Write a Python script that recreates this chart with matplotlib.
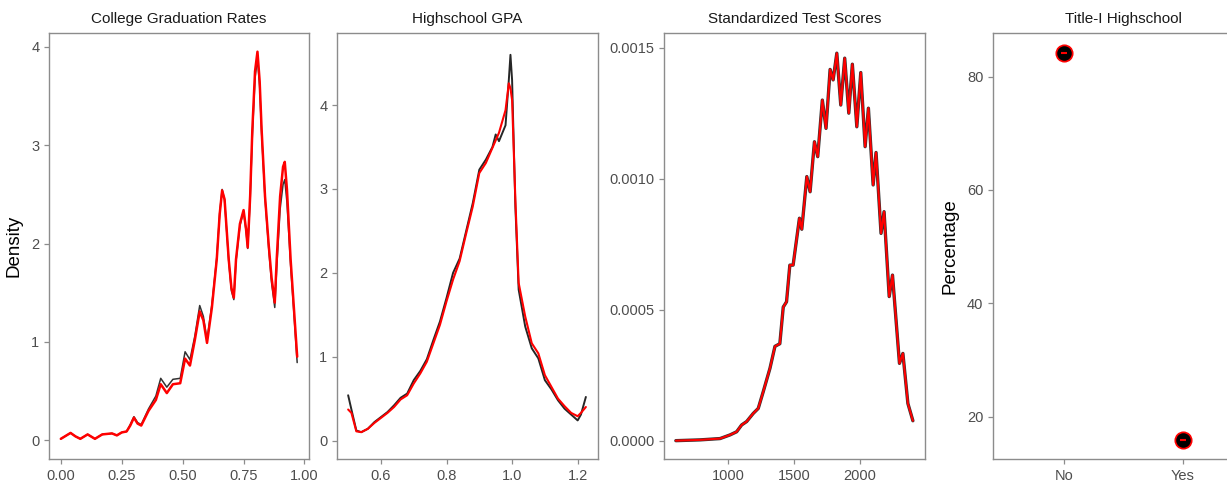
import matplotlib
matplotlib.use("Agg")
import matplotlib.pyplot as plt

plt.rcParams['font.family'] = ['Liberation Sans', 'DejaVu Sans']

# ---------------- Data ----------------
# Panel 1: College Graduation Rates
grad_x = [0.00, 0.02, 0.04, 0.06, 0.08, 0.11, 0.14, 0.17, 0.21, 0.23, 0.25, 0.27, 0.285,
          0.30, 0.315, 0.33, 0.36, 0.39, 0.41, 0.435, 0.46, 0.49, 0.51, 0.53, 0.55, 0.57,
          0.585, 0.60, 0.62, 0.64, 0.652, 0.662, 0.672, 0.689, 0.70, 0.71, 0.719, 0.735,
          0.750, 0.760, 0.767, 0.777, 0.786, 0.797, 0.807, 0.816, 0.824, 0.838, 0.854,
          0.865, 0.878, 0.886, 0.900, 0.912, 0.919, 0.928, 0.943, 0.955, 0.97]
grad_obs = [0.015, 0.045, 0.075, 0.04, 0.015, 0.06, 0.015, 0.06, 0.07, 0.05, 0.08, 0.09, 0.15,
            0.23, 0.17, 0.15, 0.30, 0.41, 0.57, 0.48, 0.57, 0.58, 0.83, 0.76, 1.02, 1.31,
            1.22, 0.99, 1.35, 1.84, 2.30, 2.54, 2.45, 1.84, 1.55, 1.45, 1.84, 2.20,
            2.34, 2.15, 1.96, 2.48, 3.16, 3.75, 3.95, 3.65, 3.16, 2.48, 1.96,
            1.65, 1.40, 1.84, 2.48, 2.78, 2.83, 2.55, 1.84, 1.40, 0.85]
grad_rep = [0.015, 0.045, 0.075, 0.04, 0.015, 0.06, 0.015, 0.06, 0.07, 0.05, 0.08, 0.09, 0.16,
            0.24, 0.18, 0.16, 0.32, 0.45, 0.63, 0.54, 0.62, 0.63, 0.90, 0.82, 1.06, 1.37,
            1.26, 1.02, 1.38, 1.86, 2.31, 2.55, 2.44, 1.82, 1.52, 1.43, 1.82, 2.18,
            2.33, 2.13, 1.95, 2.45, 3.10, 3.68, 3.88, 3.60, 3.12, 2.46, 1.92,
            1.60, 1.35, 1.75, 2.35, 2.60, 2.65, 2.42, 1.78, 1.35, 0.79]

# Panel 2: Highschool GPA
gpa_x = [0.50, 0.51, 0.525, 0.54, 0.56, 0.58, 0.60, 0.62, 0.64, 0.66, 0.68, 0.70, 0.72,
         0.74, 0.76, 0.78, 0.80, 0.82, 0.84, 0.86, 0.88, 0.90, 0.92, 0.94, 0.95, 0.96,
         0.98, 0.99, 0.995, 1.00, 1.01, 1.02, 1.04, 1.06, 1.08, 1.10, 1.12, 1.14, 1.16,
         1.18, 1.20, 1.21, 1.225]
gpa_obs = [0.37, 0.33, 0.11, 0.10, 0.14, 0.21, 0.27, 0.33, 0.40, 0.49, 0.54, 0.68, 0.80,
           0.94, 1.16, 1.38, 1.66, 1.92, 2.14, 2.47, 2.79, 3.19, 3.31, 3.49, 3.58, 3.67,
           3.94, 4.26, 4.20, 4.06, 2.87, 1.88, 1.48, 1.16, 1.04, 0.78, 0.64, 0.50, 0.41,
           0.33, 0.29, 0.33, 0.40]
gpa_rep = [0.54, 0.37, 0.12, 0.10, 0.14, 0.22, 0.28, 0.34, 0.42, 0.51, 0.56, 0.72, 0.83,
           0.97, 1.20, 1.42, 1.70, 2.00, 2.17, 2.50, 2.83, 3.23, 3.35, 3.50, 3.65, 3.57,
           3.76, 4.30, 4.60, 4.30, 2.79, 1.80, 1.36, 1.10, 0.98, 0.72, 0.61, 0.48, 0.38,
           0.31, 0.24, 0.31, 0.52]

# Panel 3: Standardized Test Scores (density x 1e-4)
sat_x = [601, 785, 937, 1013, 1063, 1101, 1139, 1189, 1227, 1265, 1316, 1354, 1391, 1417,
         1442, 1467, 1492, 1540, 1558, 1596, 1621, 1654, 1679, 1714, 1742, 1773, 1796,
         1824, 1854, 1884, 1915, 1942, 1976, 2006, 2039, 2064, 2100, 2122, 2160, 2183,
         2222, 2247, 2300, 2326, 2364, 2402]
sat_obs = [0.0, 0.03, 0.08, 0.22, 0.34, 0.60, 0.73, 1.04, 1.23, 1.87, 2.76, 3.60, 3.70, 5.10,
           5.30, 6.70, 6.70, 8.49, 8.07, 10.08, 9.50, 11.41, 10.84, 13.00, 11.92, 14.17, 13.77,
           14.79, 12.81, 14.60, 12.50, 14.37, 11.98, 14.05, 11.22, 12.69, 9.76, 11.00, 7.91, 8.74,
           5.50, 6.32, 2.95, 3.33, 1.42, 0.76]

# Panel 4: Title-I Highschool
title_cats = ["No", "Yes"]
title_pct = [84.13, 15.87]

# ---------------- Styling ----------------
W, H = 1227, 482
fig = plt.figure(figsize=(W / 100, H / 100), dpi=100)

spine_col = "#8c8c8c"
tick_col = "#4d4d4d"


def make_ax(left, right, top=33, bottom=459):
    ax = fig.add_axes([left / W, (H - bottom) / H, (right - left) / W, (bottom - top) / H])
    for s in ax.spines.values():
        s.set_color(spine_col)
        s.set_linewidth(1.0)
    ax.tick_params(colors=spine_col, labelcolor=tick_col, labelsize=10.5, length=3.5, width=0.9)
    return ax


title_kw = dict(fontsize=11, color="#1a1a1a", pad=7)
line_kw = dict(solid_joinstyle="round", solid_capstyle="round")

# Panel 1
ax1 = make_ax(49, 309)
ax1.plot(grad_x, grad_rep, color="black", lw=1.1, alpha=0.8, **line_kw)
ax1.plot(grad_x, grad_obs, color="red", lw=1.8, **line_kw)
ax1.set_xlim(-0.0485, 1.0185)
ax1.set_ylim(-0.19, 4.14)
ax1.set_xticks([0, 0.25, 0.5, 0.75, 1.0])
ax1.set_xticklabels(["0.00", "0.25", "0.50", "0.75", "1.00"])
ax1.set_yticks([0, 1, 2, 3, 4])
ax1.set_ylabel("Density", fontsize=13.5, color="black", labelpad=6)
ax1.set_title("College Graduation Rates", **title_kw)

# Panel 2
ax2 = make_ax(337, 598)
ax2.plot(gpa_x, gpa_rep, color="black", lw=1.4, alpha=0.85, **line_kw)
ax2.plot(gpa_x, gpa_obs, color="red", lw=1.5, **line_kw)
ax2.set_xlim(0.466, 1.262)
ax2.set_ylim(-0.22, 4.86)
ax2.set_xticks([0.6, 0.8, 1.0, 1.2])
ax2.set_yticks([0, 1, 2, 3, 4])
ax2.set_title("Highschool GPA", **title_kw)

# Panel 3
ax3 = make_ax(664, 925)
sat_y = [v * 1e-4 for v in sat_obs]
ax3.plot(sat_x, sat_y, color="black", lw=2.4, alpha=0.8, **line_kw)
ax3.plot(sat_x, sat_y, color="red", lw=1.5, **line_kw)
ax3.set_xlim(511, 2494)
ax3.set_ylim(-0.00007, 0.001556)
ax3.set_xticks([1000, 1500, 2000])
ax3.set_yticks([0, 0.0005, 0.0010, 0.0015])
ax3.set_yticklabels(["0.0000", "0.0005", "0.0010", "0.0015"])
ax3.set_title("Standardized Test Scores", **title_kw)

# Panel 4 (right side cut off by the figure edge)
ax4 = make_ax(993, 1254)
xpos = list(range(1, len(title_cats) + 1))
ax4.scatter(xpos, title_pct, s=170, color="red", zorder=2, linewidths=0)
ax4.scatter(xpos, title_pct, s=110, color="black", zorder=3, linewidths=0)
ax4.scatter(xpos, title_pct, s=18, marker="_", color="red", zorder=4, linewidths=1.5)
ax4.set_xlim(0.4, 2.6)
ax4.set_ylim(12.5, 87.7)
ax4.set_xticks(xpos)
ax4.set_xticklabels(title_cats)
ax4.set_yticks([20, 40, 60, 80])
ax4.set_ylabel("Percentage", fontsize=13.5, color="black", labelpad=6)
ax4.set_title("Title-I Highschool", **title_kw)
ax4.spines["right"].set_visible(False)

fig.savefig("out.png", dpi=100)
